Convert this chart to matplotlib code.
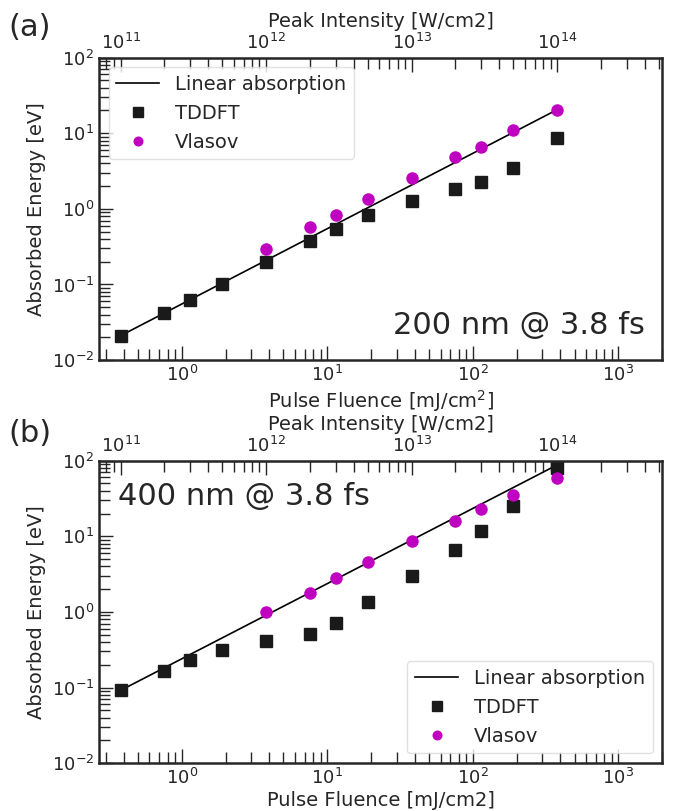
import matplotlib
matplotlib.use("Agg")
import matplotlib.pyplot as plt
from matplotlib.ticker import NullFormatter, FixedLocator

# Pulse fluence [mJ/cm2] (3.8 fs pulses, peak intensity 1e11 ... 1e14 W/cm2)
fluence = [0.38, 0.76, 1.14, 1.9, 3.8, 7.6, 11.4, 19, 38, 76, 114, 190, 380]
fluence_vlasov = [3.8, 7.6, 11.4, 19, 38, 76, 114, 190, 380]
line_fluence = [0.38, 380]

# (a) 200 nm
tddft_200 = [0.021, 0.0416, 0.062, 0.101, 0.20, 0.376, 0.537, 0.83, 1.28, 1.82, 2.25, 3.44, 8.75]
vlasov_200 = [0.29, 0.58, 0.83, 1.34, 2.54, 4.9, 6.65, 11.1, 20.3]
linear_200 = [0.021, 20.5]

# (b) 400 nm
tddft_400 = [0.0916, 0.167, 0.229, 0.313, 0.416, 0.515, 0.713, 1.34, 2.95, 6.65, 11.9, 24.9, 80]
vlasov_400 = [0.99, 1.78, 2.81, 4.57, 8.75, 16.1, 22.9, 34.8, 59]
linear_400 = [0.0916, 88]

# top axis decades
intensity_ticks = [1e11, 1e12, 1e13, 1e14]

pulse_fs = 3.8
text_col = '0.15'

plt.rcParams['text.color'] = text_col
plt.rcParams['axes.labelcolor'] = text_col
plt.rcParams['xtick.color'] = text_col
plt.rcParams['ytick.color'] = text_col
plt.rcParams['axes.edgecolor'] = text_col


def to_intensity(f):
    return f * 1e-3 / (pulse_fs * 1e-15)


def to_fluence(i):
    return i * pulse_fs * 1e-15 * 1e3


def panel(ax, tddft, vlasov, linear, title, title_pos, legend_loc, xlabel):
    ax.plot(line_fluence, linear, color='k', lw=1.2, label='Linear absorption')
    ax.plot(fluence, tddft, 's', color='#1a1a1a', ms=9, label='TDDFT')
    ax.plot(fluence_vlasov, vlasov, 'o', color='#c000c0', ms=9, mec='none', label='Vlasov')
    ax.set_xscale('log')
    ax.set_yscale('log')
    ax.set_xlim(0.27, 2000)
    ax.set_ylim(1e-2, 1e2)
    for s in ax.spines.values():
        s.set_linewidth(1.8)
    ax.tick_params(which='both', direction='in', labelsize=13, top=False, right=False)
    ax.tick_params(which='major', length=10, width=1)
    ax.tick_params(which='minor', length=8, width=1)
    ax.set_xlabel(xlabel, fontsize=14, labelpad=2)
    ax.set_ylabel('Absorbed Energy [eV]', fontsize=14)
    x, y, ha = title_pos
    ax.text(x, y, title, transform=ax.transAxes, fontsize=22, ha=ha, va='baseline')
    leg = ax.legend(loc=legend_loc, fontsize=14, frameon=True, handlelength=2.2,
                    markerscale=0.8)
    leg.get_frame().set_edgecolor('0.85')

    # peak intensity axis on top
    sec = ax.secondary_xaxis('top', functions=(to_intensity, to_fluence))
    sec.xaxis.set_major_locator(FixedLocator(intensity_ticks))
    sec.xaxis.set_minor_formatter(NullFormatter())
    sec.tick_params(which='both', direction='in', labelsize=13)
    sec.tick_params(which='major', length=10, width=1)
    sec.tick_params(which='minor', length=8, width=1)
    sec.set_xlabel('Peak Intensity [W/cm2]', fontsize=14, labelpad=4)
    return ax


fig = plt.figure(figsize=(6.73, 8.11), dpi=100)
ax1 = fig.add_axes([0.147, 0.556, 0.837, 0.373])
ax2 = fig.add_axes([0.147, 0.059, 0.837, 0.373])

panel(ax1, tddft_200, vlasov_200, linear_200, '200 nm @ 3.8 fs', (0.97, 0.085, 'right'),
      'upper left', 'Pulse Fluence [mJ/cm$^2$]')
panel(ax2, tddft_400, vlasov_400, linear_400, '400 nm @ 3.8 fs', (0.034, 0.855, 'left'),
      'lower right', 'Pulse Fluence [mJ/cm2]')

fig.text(0.012, 0.955, '(a)', fontsize=22)
fig.text(0.012, 0.455, '(b)', fontsize=22)

fig.savefig('out.png', dpi=100)
